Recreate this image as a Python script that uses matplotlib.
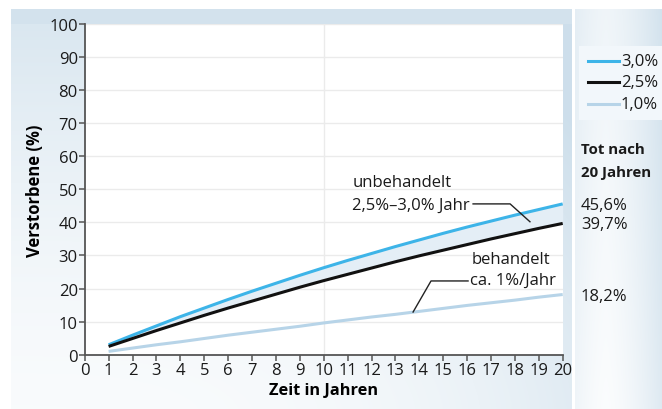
import numpy as np
import matplotlib
matplotlib.use("Agg")
import matplotlib.pyplot as plt
from matplotlib.lines import Line2D

plt.rcParams['font.family'] = ['Open Sans', 'DejaVu Sans']

# ---- data (cumulative deaths in %) ----
years = [1, 2, 3, 4, 5, 6, 7, 8, 9, 10, 11, 12, 13, 14, 15, 16, 17, 18, 19, 20]
rate_30 = [3.0, 5.9, 8.7, 11.5, 14.1, 16.7, 19.2, 21.6, 24.0, 26.3,
           28.5, 30.6, 32.7, 34.7, 36.7, 38.6, 40.4, 42.2, 43.9, 45.6]
rate_25 = [2.5, 4.9, 7.3, 9.6, 11.9, 14.1, 16.2, 18.3, 20.4, 22.4,
           24.3, 26.2, 28.1, 29.9, 31.6, 33.3, 35.0, 36.6, 38.2, 39.7]
rate_10 = [1.0, 2.0, 3.0, 3.9, 4.9, 5.9, 6.8, 7.7, 8.6, 9.6,
           10.5, 11.4, 12.2, 13.1, 14.0, 14.9, 15.7, 16.5, 17.4, 18.2]
legend_labels = ["3,0%", "2,5%", "1,0%"]
end_labels = ["45,6%", "39,7%", "18,2%"]
xticks = list(range(0, 21))
yticks = list(range(0, 101, 10))

C30 = "#3db4e8"
C25 = "#111111"
C10 = "#b7d4e8"
FILL = "#e4eef6"

W, H = 662, 410
fig = plt.figure(figsize=(W / 100, H / 100), dpi=100)

# ---- background gradients ----
bg = fig.add_axes([0, 0, 1, 1], zorder=0)
bg.set_xlim(0, W)
bg.set_ylim(H, 0)
bg.axis('off')
img = np.ones((H, W, 3))
blue = np.array([0.80, 0.87, 0.92])
yy, xx = np.mgrid[0:H, 0:W]
# left panel
lx0, lx1, ly0 = 11, 572, 10
fx = (xx - lx0) / (lx1 - lx0)
fy = (yy - ly0) / (H - ly0)
t = np.clip(0.75 * (1 - fy) ** 1.5 + 0.55 * fx ** 3, 0, 1) * 0.85 + 0.12
mask = (xx >= lx0) & (xx < lx1) & (yy >= ly0)
img[mask] = (1 - t[mask, None]) * 1.0 + t[mask, None] * blue
# right panel
rx0 = 575
gx = (xx - rx0) / (W - rx0)
t2 = np.clip(0.55 * np.abs(gx - 0.35) ** 1.5 * 2.2 + 0.25 * (1 - fy), 0, 1) * 0.9 + 0.08
mask2 = (xx >= rx0) & (yy >= ly0)
img[mask2] = (1 - t2[mask2, None]) * 1.0 + t2[mask2, None] * blue
# top band of left panel
band = (xx >= lx0) & (xx < lx1) & (yy >= ly0) & (yy < 25)
img[band] = np.array([0.83, 0.89, 0.93])
bg.imshow(img, extent=(0, W, H, 0), aspect='auto', interpolation='bilinear')
# legend box in right panel
bg.add_patch(plt.Rectangle((579, 47), W - 579, 74, facecolor="#f2f7fb",
                           edgecolor='none'))

# ---- main axes ----
x0p, x1p, y0p, y1p = 84.7, 562.7, 25.0, 355.7
ax = fig.add_axes([x0p / W, 1 - y1p / H, (x1p - x0p) / W, (y1p - y0p) / H], zorder=2)
ax.set_facecolor("white")
ax.set_xlim(0, 20)
ax.set_ylim(0, 100)
ax.set_xticks(xticks)
ax.set_yticks(yticks)
for s in ['top', 'right']:
    ax.spines[s].set_visible(False)
for s in ['left', 'bottom']:
    ax.spines[s].set_color("#555555")
    ax.spines[s].set_linewidth(1.3)
ax.tick_params(axis='both', direction='out', length=4, width=1.1, color="#555555",
               labelsize=12, pad=1, labelcolor="#1a1a1a")
for yv in yticks[1:]:
    ax.axhline(yv, color="#ebebeb", lw=1, zorder=0)
ax.axvline(10, color="#ebebeb", lw=1, zorder=0)

ax.fill_between(years, rate_25, rate_30, color=FILL, lw=0, zorder=1)
ax.plot(years, rate_10, color=C10, lw=2.2, zorder=2, solid_capstyle='butt')
ax.plot(years, rate_30, color=C30, lw=2.2, zorder=3, solid_capstyle='butt')
ax.plot(years, rate_25, color=C25, lw=2.2, zorder=4, solid_capstyle='butt')

ax.set_xlabel("Zeit in Jahren", fontsize=11.8, fontweight='bold', labelpad=3)
ax.set_ylabel("Verstorbene (%)", fontsize=12, fontweight='bold', labelpad=4)

# annotations
ax.text(11.19, 51.1, "unbehandelt", fontsize=12, va='baseline', ha='left', color="#1a1a1a")
ax.text(11.19, 44.2, "2,5%\u20133,0% Jahr", fontsize=12, va='baseline', ha='left', color="#1a1a1a")
ax.plot([16.25, 17.8, 18.63], [45.6, 45.6, 40.2], color="#222222", lw=1, zorder=5)
ax.text(16.21, 27.8, "behandelt", fontsize=12, va='baseline', ha='left', color="#1a1a1a")
ax.text(16.12, 21.4, "ca. 1%/Jahr", fontsize=12, va='baseline', ha='left', color="#1a1a1a")
ax.plot([16.04, 14.49, 13.74], [22.3, 22.3, 12.9], color="#222222", lw=1, zorder=5)

# ---- right panel texts ----
def fx_(px):
    return px / W

def fy_(py):
    return 1 - py / H

leg_y = [62, 83, 105]
for lab, col, py in zip(legend_labels, [C30, C25, C10], leg_y):
    fig.add_artist(Line2D([fx_(588), fx_(619)], [fy_(py), fy_(py)], color=col, lw=2.2,
                          transform=fig.transFigure, zorder=3))
    fig.text(fx_(621), fy_(py), lab, fontsize=12, va='center', ha='left', color="#1a1a1a", zorder=3)

fig.text(fx_(581), fy_(150), "Tot nach", fontsize=10.8, fontweight='bold', va='center', ha='left',
         color="#1a1a1a", zorder=3)
fig.text(fx_(581), fy_(173), "20 Jahren", fontsize=10.8, fontweight='bold', va='center', ha='left',
         color="#1a1a1a", zorder=3)

end_vals = [rate_30[-1], rate_25[-1], rate_10[-1]]
for lab, v in zip(end_labels, end_vals):
    py = y1p - v / 100 * (y1p - y0p)
    fig.text(fx_(581), fy_(py + 1), lab, fontsize=12, va='center', ha='left', color="#1a1a1a", zorder=3)

fig.savefig("out.png", dpi=100)
